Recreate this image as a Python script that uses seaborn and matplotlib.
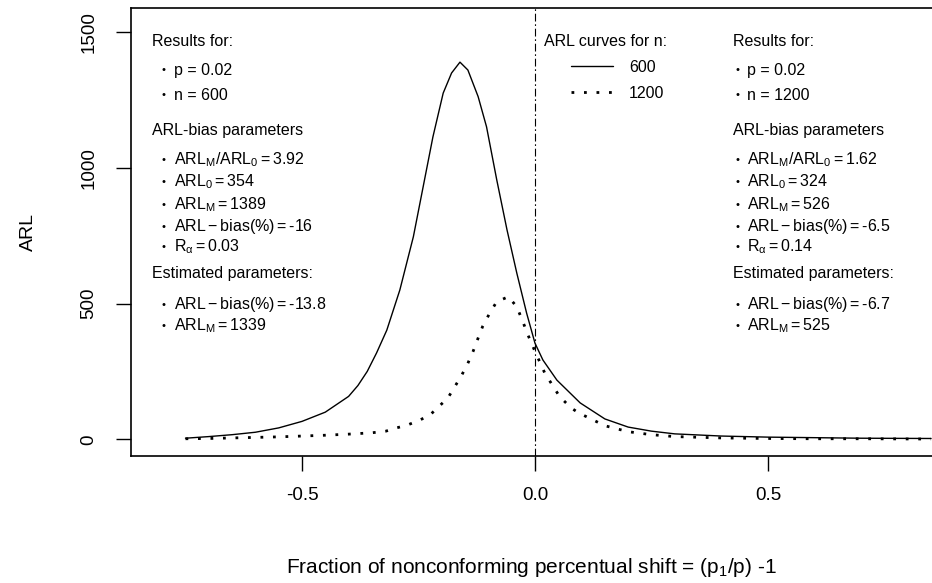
import numpy as np
import pandas as pd
import seaborn as sns
import matplotlib.pyplot as plt

sns.set_style("white")
plt.rcParams['font.family'] = ['Liberation Sans', 'DejaVu Sans']
plt.rcParams['mathtext.fontset'] = 'custom'
plt.rcParams['mathtext.rm'] = 'Liberation Sans'
plt.rcParams['mathtext.it'] = 'Liberation Sans'
for key in ['text.color', 'axes.labelcolor', 'xtick.color', 'ytick.color']:
    plt.rcParams[key] = 'black'

# ARL curve, n = 600
shift_600 = [-0.75, -0.70, -0.65, -0.60, -0.55, -0.50, -0.45, -0.40, -0.38, -0.36,
             -0.34, -0.318, -0.29, -0.261, -0.24, -0.219, -0.197, -0.179, -0.161,
             -0.144, -0.122, -0.104, -0.082, -0.060, -0.039, -0.018, 0.0, 0.017,
             0.047, 0.097, 0.15, 0.20, 0.25, 0.30, 0.40, 0.50, 0.60, 0.70, 0.85]
arl_600 = [4, 10, 17, 26, 42, 66, 100, 158, 198, 250,
           318, 402, 550, 746, 930, 1114, 1275, 1349, 1389,
           1360, 1262, 1151, 955, 771, 612, 465, 354, 292,
           218, 134, 75, 45, 30, 20, 12, 8, 6, 4, 3]

# ARL curve, n = 1200
shift_1200 = [-0.75, -0.70, -0.65, -0.60, -0.55, -0.50, -0.45, -0.40, -0.35, -0.32,
              -0.297, -0.273, -0.247, -0.225, -0.208, -0.187, -0.172, -0.157, -0.144,
              -0.133, -0.122, -0.112, -0.097, -0.082, -0.057, -0.039, -0.026, -0.015,
              0.0, 0.021, 0.053, 0.078, 0.094, 0.15, 0.20, 0.25, 0.30, 0.40, 0.50,
              0.60, 0.70, 0.85]
arl_1200 = [2, 3, 5, 7, 9, 12, 15, 19, 24, 30,
            42, 53, 71, 90, 118, 152, 194, 237, 280,
            323, 373, 417, 465, 507, 525, 488, 433, 384,
            324, 244, 157, 115, 97, 50, 28, 17, 10, 5, 3,
            2, 2, 1]

yticks = [0, 500, 1000, 1500]
xticks = [-0.5, 0.0, 0.5]
xtick_labels = ["-0.5", "0.0", "0.5"]

left_info = [
    ("Results for:", None),
    ("p = 0.02", "b"),
    ("n = 600", "b"),
    ("ARL-bias parameters", None),
    (r"$\mathregular{ARL_M/ARL_0 = 3.92}$", "b"),
    (r"$\mathregular{ARL_0 = 354}$", "b"),
    (r"$\mathregular{ARL_M = 1389}$", "b"),
    (r"$\mathregular{ARL - bias(\%) = }$-16", "b"),
    (r"$\mathregular{R_\alpha = 0.03}$", "b"),
    ("Estimated parameters:", None),
    (r"$\mathregular{ARL - bias(\%) = }$-13.8", "b"),
    (r"$\mathregular{ARL_M = 1339}$", "b"),
]
right_info = [
    ("Results for:", None),
    ("p = 0.02", "b"),
    ("n = 1200", "b"),
    ("ARL-bias parameters", None),
    (r"$\mathregular{ARL_M/ARL_0 = 1.62}$", "b"),
    (r"$\mathregular{ARL_0 = 324}$", "b"),
    (r"$\mathregular{ARL_M = 526}$", "b"),
    (r"$\mathregular{ARL - bias(\%) = }$-6.5", "b"),
    (r"$\mathregular{R_\alpha = 0.14}$", "b"),
    ("Estimated parameters:", None),
    (r"$\mathregular{ARL - bias(\%) = }$-6.7", "b"),
    (r"$\mathregular{ARL_M = 525}$", "b"),
]
line_y = [42, 70, 95, 130, 160, 182, 205, 227, 247, 273, 305, 326]

W, H = 932, 583
fig = plt.figure(figsize=(W / 100, H / 100), dpi=100)
ax = fig.add_axes([130.7 / W, 1 - 456 / H, 1 - 130.7 / W, (456 - 8) / H])

df600 = pd.DataFrame({"shift": shift_600, "ARL": arl_600})
df1200 = pd.DataFrame({"shift": shift_1200, "ARL": arl_1200})
sns.lineplot(data=df600, x="shift", y="ARL", ax=ax, color="black", lw=1.0,
             label="600")
sns.lineplot(data=df1200, x="shift", y="ARL", ax=ax, color="black", lw=2.0,
             linestyle=(0, (1, 3.5)), label="1200")
ax.axvline(0, color="black", lw=0.8, linestyle=(0, (7, 2.5, 1.5, 2.5)))

ax.set_xlim(-0.8676, 0.852)
ax.set_ylim(-61.5, 1588.4)
ax.set_xticks(xticks)
ax.set_xticklabels(xtick_labels)
ax.set_yticks(yticks)
ax.set_yticklabels([str(v) for v in yticks], rotation=90, va="center")
ax.tick_params(axis="both", direction="out", length=11, width=1.0,
               color="black", labelsize=13.5, bottom=True, left=True)
ax.tick_params(axis="x", pad=11)
ax.tick_params(axis="y", pad=13)
for s in ["left", "bottom", "top"]:
    ax.spines[s].set_color("black")
    ax.spines[s].set_linewidth(1.2)
ax.spines["right"].set_visible(False)
ax.set_xlabel("Fraction of nonconforming percentual shift = (p$_1$/p) -1",
              fontsize=15, labelpad=38)
ax.set_ylabel("ARL", fontsize=14, labelpad=31)

leg = ax.legend(loc="upper left", bbox_to_anchor=(575 / W - 0.004, 1 - 60 / H),
                bbox_transform=fig.transFigure, frameon=False, fontsize=11.5,
                handlelength=2.6, handletextpad=1.0, labelspacing=0.68,
                borderaxespad=0, borderpad=0)
fig.text(544 / W, 1 - 42 / H, "ARL curves for n:", fontsize=11.5, va="center")


def draw_block(info, x_head, x_bullet, x_text):
    for (txt, kind), y in zip(info, line_y):
        if kind is None:
            fig.text(x_head / W, 1 - y / H, txt, fontsize=11.5, va="center")
        else:
            fig.text(x_bullet / W, 1 - y / H, "•", fontsize=8, va="center")
            fig.text(x_text / W, 1 - y / H, txt, fontsize=11.5, va="center")


draw_block(left_info, 152, 161, 174)
draw_block(right_info, 733, 735, 747)

fig.savefig("out.png", dpi=100)
